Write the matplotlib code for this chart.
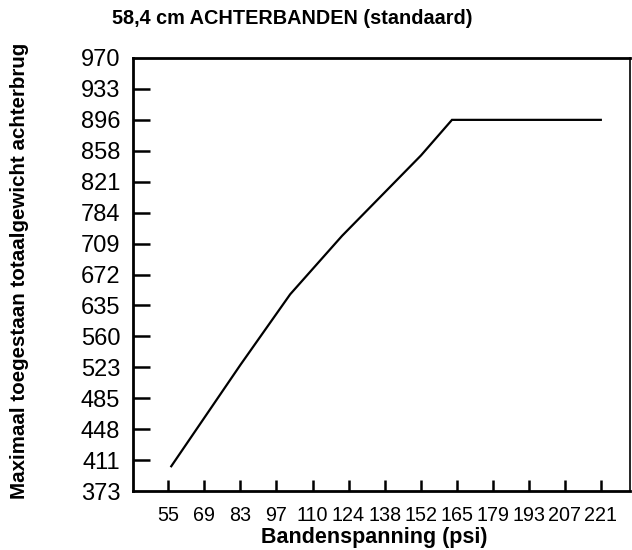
import matplotlib
matplotlib.use('Agg')
import matplotlib.pyplot as plt

plt.rcParams['font.family'] = ['Liberation Sans', 'DejaVu Sans']

# tick labels (evenly spaced on the chart)
psi_labels = ['55', '69', '83', '97', '110', '124', '138', '152', '165', '179', '193', '207', '221']
kg_labels = ['373', '411', '448', '485', '523', '560', '635', '672', '709', '784', '821', '858', '896', '933', '970']

# curve, in tick-step units
curve_x = [0.08, 2.0, 3.38, 4.82, 7.01, 7.87, 12.0]
curve_y = [0.80, 4.08, 6.36, 8.25, 10.85, 12.0, 12.0]

fig = plt.figure(figsize=(6.32, 5.5), dpi=100)
ax = fig.add_axes([132.7 / 632, 1 - 491 / 550, (630 - 132.7) / 632, (491 - 58) / 550])

ax.plot(curve_x, curve_y, color='black', lw=1.6, solid_joinstyle='miter')

ax.set_xlim(-0.99, 12.81)
ax.set_ylim(0, len(kg_labels) - 1)
ax.set_xticks(range(len(psi_labels)))
ax.set_xticklabels(psi_labels, fontsize=14.2)
ax.set_yticks(range(len(kg_labels)))
ax.set_yticklabels(kg_labels, fontsize=17)
ax.tick_params(axis='y', direction='in', length=12, width=1.8, pad=9)
ax.tick_params(axis='x', direction='in', length=8, width=1.8, pad=11)
ax.yaxis.get_major_ticks()[0].tick1line.set_visible(False)
ax.yaxis.get_major_ticks()[-1].tick1line.set_visible(False)

for side in ['left', 'top', 'bottom']:
    ax.spines[side].set_linewidth(2)
ax.spines['right'].set_linewidth(1.2)

fig.text(292 / 632, 1 - 19 / 550, '58,4 cm ACHTERBANDEN (standaard)',
         ha='center', va='center', fontsize=14.3, fontweight='bold')
fig.text(374 / 632, 1 - 538 / 550, 'Bandenspanning (psi)',
         ha='center', va='center', fontsize=15.5, fontweight='bold')
fig.text(20 / 632, 1 - 271 / 550, 'Maximaal toegestaan totaalgewicht achterbrug',
         ha='center', va='center', rotation=90, fontsize=14.8, fontweight='bold')

fig.savefig('out.png', dpi=100)
